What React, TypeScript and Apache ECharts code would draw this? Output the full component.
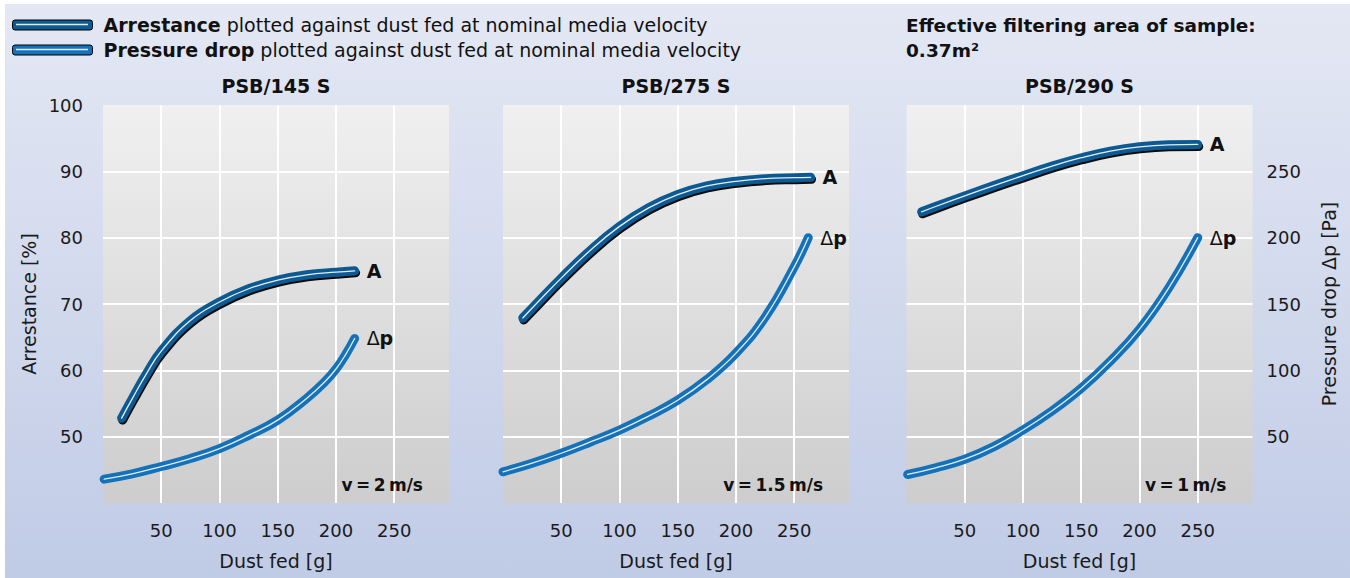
import React, { useEffect, useRef } from "react";
import * as echarts from "echarts";

// ---- data (x = dust fed [g]) ----
// Arrestance [%]
const arrestance145: number[][] = [[16, 52.8], [25, 55.7], [38, 59.7], [50, 62.9], [75, 67.5], [100, 70.3], [125, 72.3], [150, 73.6], [175, 74.4], [200, 74.8], [216, 75]];
const arrestance275: number[][] = [[17, 67.9], [30, 70.3], [50, 73.9], [75, 78.1], [100, 81.7], [125, 84.5], [150, 86.5], [175, 87.8], [200, 88.5], [225, 88.9], [250, 89.05], [264, 89.1]];
const arrestance290: number[][] = [[13, 83.9], [25, 84.7], [50, 86.3], [75, 87.85], [100, 89.35], [125, 90.8], [150, 92.05], [175, 93.05], [200, 93.7], [225, 94], [250, 94.05]];
// Pressure drop [Pa]
const pressure145: number[][] = [[1, 18], [25, 22], [50, 27.5], [75, 33.5], [100, 41], [125, 51], [150, 62.5], [175, 79], [190, 91], [200, 101], [208, 111.5], [216, 124]];
const pressure275: number[][] = [[0, 23.5], [25, 30], [50, 37.5], [75, 46], [100, 55], [125, 65.5], [150, 77.5], [175, 93], [200, 113], [225, 140], [250, 178], [262, 200]];
const pressure290: number[][] = [[1, 21.5], [25, 26.5], [50, 33], [75, 42.5], [100, 55], [125, 69.5], [150, 86.5], [175, 107], [200, 131], [225, 162], [250, 200]];

const panelTitles = ["PSB/145 S", "PSB/275 S", "PSB/290 S"];
const velocities = ["v\u2009=\u20092\u2009m/s", "v\u2009=\u20091.5\u2009m/s", "v\u2009=\u20091\u2009m/s"];
const legendNames = ["Arrestance", "Pressure drop"];

const FONT = "DejaVu Sans";
const GRID_LEFTS = [103, 503, 906.5];
const GRID_TOP = 105;
const GRID_W = 346;
const GRID_H = 398;
const A_COLOR = "#0b5a92";
const P_COLOR = "#1572b8";
const SMOOTH = 0.45;

export default function App() {
  const ref = useRef<HTMLDivElement>(null);
  useEffect(() => {
    document.body.style.margin = "0";
    const chart = echarts.init(ref.current!, null, { renderer: "svg" });
    const aData = [arrestance145, arrestance275, arrestance290];
    const pData = [pressure145, pressure275, pressure290];

    const grids = GRID_LEFTS.map((l) => ({
      left: l, top: GRID_TOP, width: GRID_W, height: GRID_H, show: true, borderWidth: 0,
      backgroundColor: new echarts.graphic.LinearGradient(0, 0, 0, 1, [
        { offset: 0, color: "#f0f0f0" }, { offset: 1, color: "#cdcdcd" },
      ]),
    }));
    const labelStyle = { fontFamily: FONT, fontSize: 18, color: "#1a1a1a" };
    const xAxes = GRID_LEFTS.map((_, i) => ({
      type: "value", gridIndex: i, min: 0, max: 297, interval: 50,
      axisLine: { show: false }, axisTick: { show: false },
      axisLabel: { ...labelStyle, margin: 18, formatter: (v: number) => (v > 0 && v <= 250 ? String(v) : "") },
      splitLine: { show: true, showMinLine: false, showMaxLine: false, lineStyle: { color: "#ffffff", width: 2 } },
      name: "Dust fed [g]", nameLocation: "middle", nameGap: 48,
      nameTextStyle: { fontFamily: FONT, fontSize: 19, color: "#1a1a1a" },
    }));
    const yAxes: any[] = [];
    GRID_LEFTS.forEach((_, i) => {
      yAxes.push({
        type: "value", gridIndex: i, position: "left", min: 40, max: 100, interval: 10,
        axisLine: { show: false }, axisTick: { show: false },
        axisLabel: { show: i === 0, ...labelStyle, margin: 20, formatter: (v: number) => (v > 40 ? String(v) : "") },
        splitLine: { show: true, showMinLine: false, showMaxLine: false, lineStyle: { color: "#ffffff", width: 2 } },
        name: i === 0 ? "Arrestance [%]" : "", nameLocation: "middle", nameGap: 65, nameRotate: 90,
        nameTextStyle: { fontFamily: FONT, fontSize: 19, color: "#1a1a1a" },
      });
      yAxes.push({
        type: "value", gridIndex: i, position: "right", min: 0, max: 300, interval: 50,
        axisLine: { show: false }, axisTick: { show: false },
        axisLabel: { show: i === 2, ...labelStyle, margin: 14, formatter: (v: number) => (v > 0 && v < 300 ? String(v) : "") },
        splitLine: { show: false },
        name: i === 2 ? "Pressure drop Δp [Pa]" : "", nameLocation: "middle", nameGap: 67, nameRotate: 90,
        nameTextStyle: { fontFamily: FONT, fontSize: 19, color: "#1a1a1a" },
      });
    });

    const series: any[] = [];
    const endLabelBase = { show: true, distance: 12, fontFamily: FONT, fontSize: 19, color: "#111" };
    for (let i = 0; i < 3; i++) {
      series.push({
        name: "Arrestance", type: "line", xAxisIndex: i, yAxisIndex: i * 2, data: aData[i],
        smooth: SMOOTH, showSymbol: false, z: 3,
        lineStyle: { width: 9, color: A_COLOR, cap: "round", shadowColor: "rgba(0,0,0,0.95)", shadowBlur: 0, shadowOffsetX: 1, shadowOffsetY: 2 },
        itemStyle: { color: A_COLOR },
        endLabel: { ...endLabelBase, fontWeight: "bold", formatter: "A" },
      });
      series.push({
        name: "Arrestance-hl", type: "line", xAxisIndex: i, yAxisIndex: i * 2, data: aData[i],
        smooth: SMOOTH, showSymbol: false, silent: true, z: 4,
        lineStyle: { width: 1.3, color: "rgba(240,246,252,0.95)", cap: "round" },
      });
      series.push({
        name: "Pressure drop", type: "line", xAxisIndex: i, yAxisIndex: i * 2 + 1, data: pData[i],
        smooth: SMOOTH, showSymbol: false, z: 3,
        lineStyle: { width: 9, color: P_COLOR, cap: "round" },
        itemStyle: { color: P_COLOR },
        endLabel: {
          ...endLabelBase, formatter: "{d|Δ}{p|p}",
          rich: { d: { fontFamily: FONT, fontSize: 19, color: "#111" }, p: { fontFamily: FONT, fontSize: 19, fontWeight: "bold", color: "#111" } },
        },
      });
      series.push({
        name: "Pressure-hl", type: "line", xAxisIndex: i, yAxisIndex: i * 2 + 1, data: pData[i],
        smooth: SMOOTH, showSymbol: false, silent: true, z: 4,
        lineStyle: { width: 1.3, color: "rgba(235,243,252,0.95)", cap: "round" },
      });
    }

    const titles = panelTitles.map((t, i) => ({
      text: t, left: GRID_LEFTS[i] + GRID_W / 2, top: 76, textAlign: "center", padding: 0,
      textStyle: { fontFamily: FONT, fontSize: 19, fontWeight: "bold", color: "#111" },
    }));

    const graphics: any[] = velocities.map((v, i) => ({
      type: "text", x: GRID_LEFTS[i] + GRID_W - 26, y: 485, z: 100,
      style: { text: v, fontFamily: FONT, fontSize: 17, fontWeight: "bold", fill: "#111", textAlign: "right", textVerticalAlign: "middle" },
    }));
    graphics.push({
      type: "text", x: 906, y: 25, z: 100,
      style: { text: "Effective filtering area of sample:", fontFamily: FONT, fontSize: 18.5, fontWeight: "bold", fill: "#111", textVerticalAlign: "middle" },
    });
    graphics.push({
      type: "text", x: 906, y: 50, z: 100,
      style: { text: "0.37m²", fontFamily: FONT, fontSize: 18.5, fontWeight: "bold", fill: "#111", textVerticalAlign: "middle" },
    });
    graphics.push({ type: "line", shape: { x1: 16, y1: 24.5, x2: 88, y2: 24.5 }, style: { stroke: "rgba(240,246,252,0.95)", lineWidth: 1.3 }, z: 100 });
    graphics.push({ type: "line", shape: { x1: 16, y1: 49.5, x2: 88, y2: 49.5 }, style: { stroke: "rgba(235,243,252,0.95)", lineWidth: 1.3 }, z: 100 });

    chart.setOption({
      animation: false,
      backgroundColor: "transparent",
      title: titles,
      legend: {
        data: legendNames, orient: "vertical", left: 12, top: 14, padding: 0, itemWidth: 80, itemHeight: 10, itemGap: 3,
        icon: "roundRect",
        itemStyle: { borderColor: "#000", borderWidth: 1 },
        textStyle: {
          fontFamily: FONT, fontSize: 19, color: "#111", lineHeight: 22, padding: [0, 0, 0, 6],
          rich: { b: { fontFamily: FONT, fontSize: 19, fontWeight: "bold", color: "#111" } },
        },
        formatter: (name: string) => `{b|${name}} plotted against dust fed at nominal media velocity`,
        selectedMode: false,
      },
      grid: grids,
      xAxis: xAxes,
      yAxis: yAxes,
      series,
      graphic: graphics,
    } as any);
    return () => chart.dispose();
  }, []);

  return (
    <div style={{ position: "relative", width: 1350, height: 578, background: "#ffffff", overflow: "hidden" }}>
      <div style={{ position: "absolute", left: 5, top: 4, right: 0, bottom: 0, background: "linear-gradient(to bottom, #e4e8f4, #c0cbe6)" }} />
      <div ref={ref} style={{ position: "absolute", left: 0, top: 0, width: 1350, height: 578 }} />
    </div>
  );
}
